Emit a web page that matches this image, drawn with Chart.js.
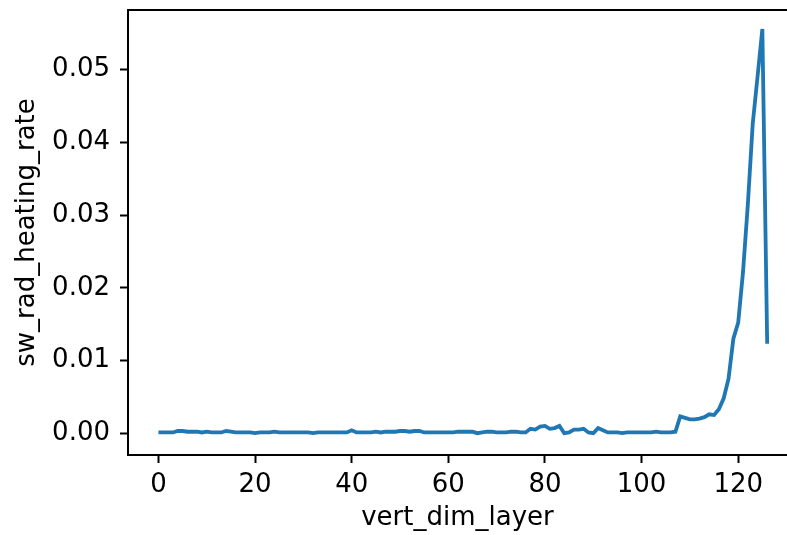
<!DOCTYPE html>
<html>
<head>
    <title>sw_rad_heating_rate by vert_dim_layer</title>
    <script src="https://cdn.jsdelivr.net/npm/chart.js"></script>
    <style>
        html, body {
            margin: 0;
            padding: 0;
            overflow: hidden;
            background: #fff;
        }
        canvas {
            display: block;
        }
    </style>
</head>
<body>
    <canvas id="heatChart" width="787" height="535"></canvas>
    <script>
        // sw_rad_heating_rate per vertical layer (index = vert_dim_layer)
        const heatingRate = [
            0.0001, 0.0001, 0.0001, 0.0001, 0.0003, 0.0003, 0.0002, 0.0002, 0.0002, 0.0001,
            0.0002, 0.0001, 0.0001, 0.0001, 0.0003, 0.0002, 0.0001, 0.0001, 0.0001, 0.0001,
            0.0000, 0.0001, 0.0001, 0.0001, 0.0002, 0.0001, 0.0001, 0.0001, 0.0001, 0.0001,
            0.0001, 0.0001, 0.0000, 0.0001, 0.0001, 0.0001, 0.0001, 0.0001, 0.0001, 0.0001,
            0.0004, 0.0001, 0.0001, 0.0001, 0.0001, 0.0002, 0.0001, 0.0002, 0.0002, 0.0002,
            0.0003, 0.0003, 0.0002, 0.0003, 0.0003, 0.0001, 0.0001, 0.0001, 0.0001, 0.0001,
            0.0001, 0.0001, 0.0002, 0.0002, 0.0002, 0.0002, 0.0000, 0.0001, 0.0002, 0.0002,
            0.0001, 0.0001, 0.0001, 0.0002, 0.0002, 0.0001, 0.0001, 0.0006, 0.0005, 0.0009,
            0.0010, 0.0006, 0.0007, 0.0010, 0.0000, 0.0001, 0.0005, 0.0005, 0.0006, 0.0001,
            0.0000, 0.0007, 0.0004, 0.0001, 0.0001, 0.0001, 0.0000, 0.0001, 0.0001, 0.0001,
            0.0001, 0.0001, 0.0001, 0.0002, 0.0001, 0.0001, 0.0001, 0.0002, 0.0023, 0.0021,
            0.0019, 0.0019, 0.0020, 0.0022, 0.0026, 0.0025, 0.0033, 0.0048, 0.0075, 0.0130,
            0.0152, 0.0222, 0.0315, 0.0425, 0.0490, 0.0556, 0.0123
        ];

        const xTicks = [0, 20, 40, 60, 80, 100, 120];
        const yTicks = [0.00, 0.01, 0.02, 0.03, 0.04, 0.05];

        const xTitle = 'vert_dim_layer';
        const yTitle = 'sw_rad_heating_rate';

        const points = heatingRate.map((v, i) => ({ x: i, y: v }));

        const textFont = { family: 'DejaVu Sans', size: 26 };

        // fix axis size and drop the label overflow padding chart.js adds
        function fitAxis(scale, size) {
            if (scale.isHorizontal()) scale.height = size;
            else scale.width = size;
            scale.paddingTop = 0;
            scale.paddingBottom = 0;
            scale.paddingLeft = 0;
            scale.paddingRight = 0;
        }

        // left, top and bottom spines (the right one falls outside the picture)
        const frame = {
            id: 'frame',
            afterDraw(chart) {
                const { ctx, chartArea: a } = chart;
                ctx.save();
                ctx.strokeStyle = '#000';
                ctx.lineWidth = 2;
                ctx.beginPath();
                ctx.moveTo(a.right + 2, a.top);
                ctx.lineTo(a.left, a.top);
                ctx.lineTo(a.left, a.bottom);
                ctx.lineTo(a.right + 2, a.bottom);
                ctx.stroke();
                ctx.restore();
            }
        };

        const ctx = document.getElementById('heatChart').getContext('2d');
        new Chart(ctx, {
            type: 'line',
            data: {
                datasets: [{
                    label: yTitle,
                    data: points,
                    borderColor: '#1f77b4',
                    borderWidth: 3.8,
                    pointRadius: 0,
                    tension: 0,
                    fill: false
                }]
            },
            options: {
                responsive: false,
                animation: false,
                layout: { padding: { top: 10, right: 0, left: 0, bottom: 0 } },
                plugins: {
                    legend: { display: false },
                    tooltip: { enabled: false }
                },
                scales: {
                    x: {
                        type: 'linear',
                        min: -6.3,
                        max: 130.1,
                        afterBuildTicks: scale => {
                            scale.ticks = xTicks.map(v => ({ value: v }));
                        },
                        afterFit: scale => fitAxis(scale, 80),
                        grid: {
                            drawOnChartArea: false,
                            drawTicks: true,
                            tickLength: 8,
                            tickWidth: 2,
                            tickColor: '#000'
                        },
                        border: { display: false },
                        ticks: {
                            color: '#000',
                            font: textFont,
                            padding: 7,
                            maxRotation: 0,
                            callback: v => String(v)
                        },
                        title: {
                            display: true,
                            text: xTitle,
                            color: '#000',
                            font: textFont,
                            padding: { top: 0, bottom: 1 }
                        }
                    },
                    y: {
                        type: 'linear',
                        min: -0.003,
                        max: 0.0582,
                        afterBuildTicks: scale => {
                            scale.ticks = yTicks.map(v => ({ value: v }));
                        },
                        afterFit: scale => fitAxis(scale, 128),
                        grid: {
                            drawOnChartArea: false,
                            drawTicks: true,
                            tickLength: 8,
                            tickWidth: 2,
                            tickColor: '#000'
                        },
                        border: { display: false },
                        ticks: {
                            color: '#000',
                            font: textFont,
                            padding: 10,
                            callback: v => Number(v).toFixed(2)
                        },
                        title: {
                            display: true,
                            text: yTitle,
                            color: '#000',
                            font: textFont,
                            padding: { top: 12, bottom: 0 }
                        }
                    }
                }
            },
            plugins: [frame]
        });
    </script>
</body>
</html>
